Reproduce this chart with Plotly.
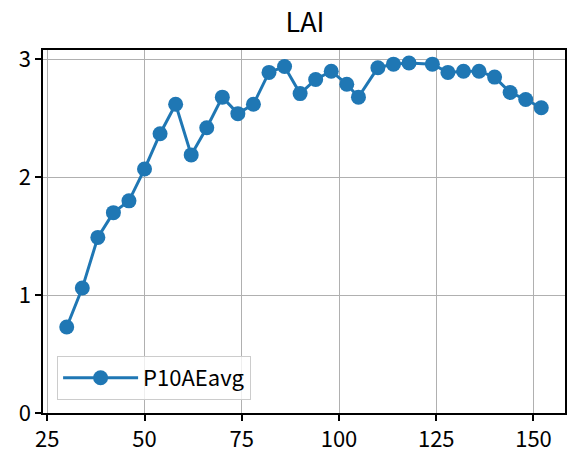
import plotly.graph_objects as go

# days after planting and leaf area index
days = [30, 34, 38, 42, 46, 50, 54, 58, 62, 66, 70, 74, 78, 82, 86, 90, 94, 98,
        102, 105, 110, 114, 118, 124, 128, 132, 136, 140, 144, 148, 152]
lai = [0.73, 1.06, 1.49, 1.70, 1.80, 2.07, 2.37, 2.62, 2.19, 2.42, 2.68, 2.54, 2.62,
       2.89, 2.94, 2.71, 2.83, 2.90, 2.79, 2.68, 2.93, 2.96, 2.97, 2.96, 2.89, 2.90,
       2.90, 2.85, 2.72, 2.66, 2.59]
x_ticks = [25, 50, 75, 100, 125, 150]
y_ticks = [0, 1, 2, 3]

font = "Noto Sans CJK JP, Noto Sans, sans-serif"

fig = go.Figure()
fig.add_trace(go.Scatter(x=days, y=lai, name="P10AEavg", mode="lines+markers",
                         line=dict(color="#1f77b4", width=3),
                         marker=dict(color="#1f77b4", size=15)))

fig.update_layout(
    width=568, height=454,
    margin=dict(l=43, r=1, t=50, b=41),
    paper_bgcolor="white", plot_bgcolor="white",
    font=dict(family=font, size=22, color="black"),
    title=dict(text="LAI", x=(43 + 567) / 2 / 568, xanchor="center",
               y=1 - 23 / 454, yanchor="middle", font=dict(size=27)),
    showlegend=True,
    legend=dict(x=0.027, y=0.036, xanchor="left", yanchor="bottom",
                bgcolor="rgba(255,255,255,0.8)", bordercolor="#cccccc", borderwidth=1,
                font=dict(size=22), itemwidth=75),
)
# Set axes
fig.update_xaxes(range=[23.9, 158.1], tickvals=x_ticks, showgrid=True, gridcolor="#b0b0b0",
                 gridwidth=1.3, showline=True, linecolor="black", linewidth=1.5, mirror=True,
                 ticks="outside", ticklen=6, tickwidth=1.5, tickcolor="black", zeroline=False)
fig.update_yaxes(range=[0, 3.08], tickvals=y_ticks, showgrid=True, gridcolor="#b0b0b0",
                 gridwidth=1.3, showline=True, linecolor="black", linewidth=1.5, mirror=True,
                 ticks="outside", ticklen=6, tickwidth=1.5, tickcolor="black", zeroline=False)

# drop the page's default body margin so the figure sits at the corner
fig.write_html("out.html", config={"displayModeBar": False},
               post_script="document.body.style.margin='0';")
